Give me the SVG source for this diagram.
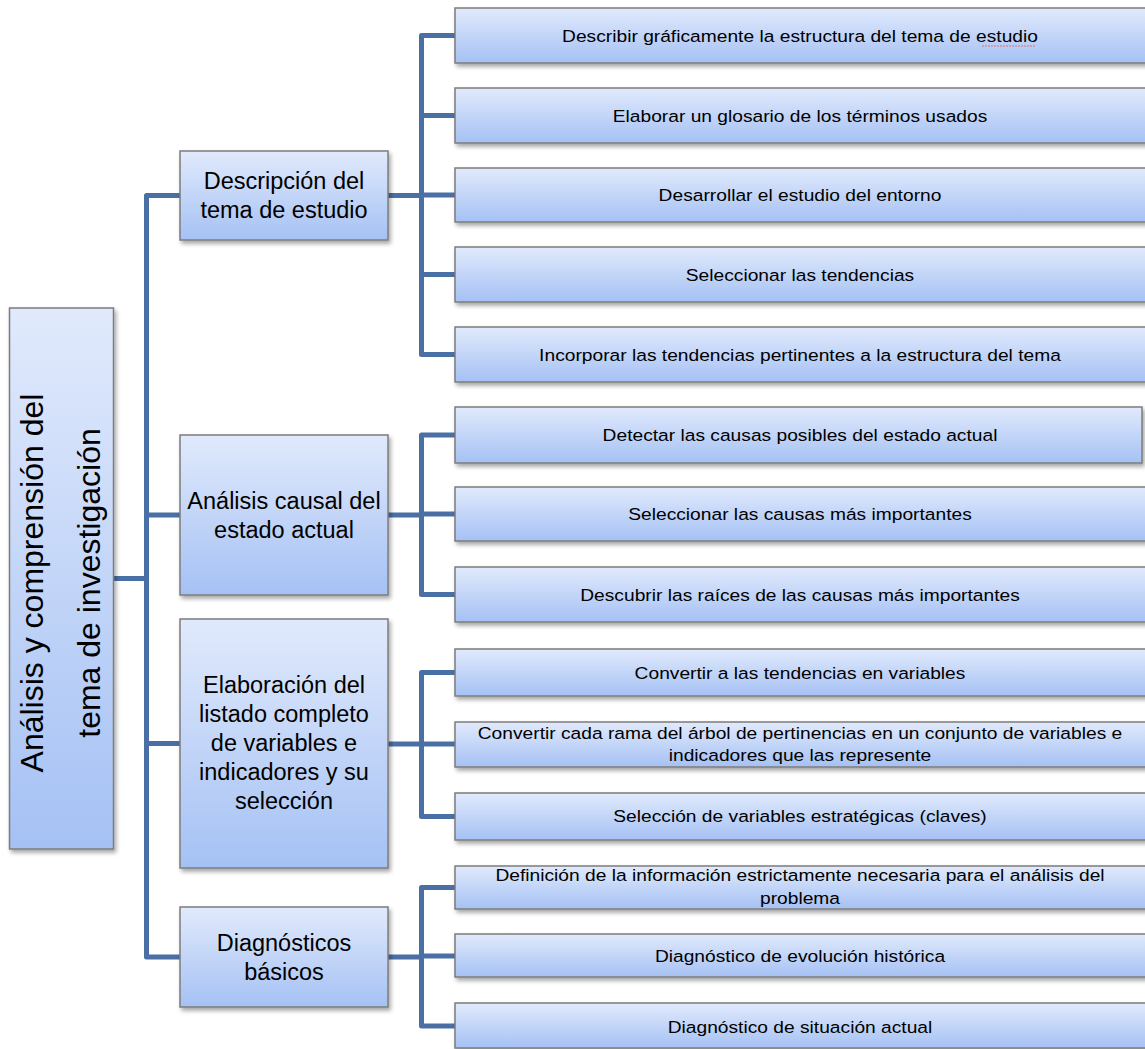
<svg xmlns="http://www.w3.org/2000/svg" width="1145" height="1049" viewBox="0 0 1145 1049">
<defs>
<linearGradient id="fill" x1="0" y1="0" x2="0" y2="1">
<stop offset="0" stop-color="#E1EAFC"/>
<stop offset="1" stop-color="#A5C1F4"/>
</linearGradient>
<filter id="sh" x="-10%" y="-20%" width="130%" height="160%">
<feDropShadow dx="2" dy="3" stdDeviation="2" flood-color="#000" flood-opacity="0.35"/>
</filter>
</defs>
<style>
.box{fill:url(#fill);stroke:#7C7C7C;stroke-width:1.5;filter:url(#sh)}
.con{fill:none;stroke:#4A6FA5;stroke-width:5;stroke-linejoin:round}
.root{font-family:"Liberation Sans",Arial,sans-serif;font-size:32px;fill:#000}
.mid{font-family:"Liberation Sans",Arial,sans-serif;font-size:23.5px;fill:#000}
.leaf{font-family:"Liberation Sans",Arial,sans-serif;font-size:17px;fill:#000}
</style>
<rect width="1145" height="1049" fill="#fff"/>
<g id="connectors">
<path class="con" d="M113 578.5 H146.5"/>
<path class="con" d="M180 195.5 H146.5 V957 H180"/>
<path class="con" d="M146.5 515 H180"/>
<path class="con" d="M146.5 743.5 H180"/>
<path class="con" d="M455 35.5 H421.5 V354.5 H455"/>
<path class="con" d="M421.5 115.5 H455 M421.5 195 H455 M421.5 274.5 H455 M388 195.5 H421.5"/>
<path class="con" d="M455 435 H421.5 V594.5 H455"/>
<path class="con" d="M421.5 514 H455 M388 515 H421.5"/>
<path class="con" d="M455 672.5 H421.5 V816.5 H455"/>
<path class="con" d="M421.5 744 H455 M388 744 H421.5"/>
<path class="con" d="M455 887.5 H421.5 V1026 H455"/>
<path class="con" d="M421.5 956 H455 M388 957 H421.5"/>
</g>
<g id="root">
<rect class="box" x="9.5" y="308" width="104" height="541"/>
<text class="root" text-anchor="middle" transform="translate(43 583) rotate(-90)">Análisis y comprensión del</text>
<text class="root" text-anchor="middle" transform="translate(100 583) rotate(-90)">tema de investigación</text>
</g>
<g id="mid-1">
<rect class="box" x="180" y="151" width="208" height="89"/>
<text class="mid" text-anchor="middle" x="284" y="189">Descripción del</text>
<text class="mid" text-anchor="middle" x="284" y="218">tema de estudio</text>
</g>
<g id="mid-2">
<rect class="box" x="180" y="435" width="208" height="160"/>
<text class="mid" text-anchor="middle" x="284" y="508.5">Análisis causal del</text>
<text class="mid" text-anchor="middle" x="284" y="537.5">estado actual</text>
</g>
<g id="mid-3">
<rect class="box" x="180" y="619" width="208" height="249"/>
<text class="mid" text-anchor="middle" x="284" y="693">Elaboración del</text>
<text class="mid" text-anchor="middle" x="284" y="722">listado completo</text>
<text class="mid" text-anchor="middle" x="284" y="751">de variables e</text>
<text class="mid" text-anchor="middle" x="284" y="780">indicadores y su</text>
<text class="mid" text-anchor="middle" x="284" y="809">selección</text>
</g>
<g id="mid-4">
<rect class="box" x="180" y="907" width="208" height="100"/>
<text class="mid" text-anchor="middle" x="284" y="950.5">Diagnósticos</text>
<text class="mid" text-anchor="middle" x="284" y="979.5">básicos</text>
</g>
<g id="leaf-1">
<rect class="box" x="455" y="8" width="700" height="55"/>
<text class="leaf" text-anchor="middle" transform="translate(800 41.5) scale(1.13 1)">Describir gráficamente la estructura del tema de estudio</text>
<path d="M982 46 H1036" stroke="#E07070" stroke-width="1" stroke-dasharray="2 1" fill="none"/>
</g>
<g id="leaf-2">
<rect class="box" x="455" y="88" width="700" height="55"/>
<text class="leaf" text-anchor="middle" transform="translate(800 121.5) scale(1.13 1)">Elaborar un glosario de los términos usados</text>
</g>
<g id="leaf-3">
<rect class="box" x="455" y="168" width="700" height="54"/>
<text class="leaf" text-anchor="middle" transform="translate(800 201) scale(1.13 1)">Desarrollar el estudio del entorno</text>
</g>
<g id="leaf-4">
<rect class="box" x="455" y="247" width="700" height="55"/>
<text class="leaf" text-anchor="middle" transform="translate(800 280.5) scale(1.13 1)">Seleccionar las tendencias</text>
</g>
<g id="leaf-5">
<rect class="box" x="455" y="327" width="700" height="55"/>
<text class="leaf" text-anchor="middle" transform="translate(800 360.5) scale(1.13 1)">Incorporar las tendencias pertinentes a la estructura del tema</text>
</g>
<g id="leaf-6">
<rect class="box" x="455" y="407" width="687" height="56"/>
<text class="leaf" text-anchor="middle" transform="translate(800 441) scale(1.13 1)">Detectar las causas posibles del estado actual</text>
</g>
<g id="leaf-7">
<rect class="box" x="455" y="487" width="700" height="54"/>
<text class="leaf" text-anchor="middle" transform="translate(800 520) scale(1.13 1)">Seleccionar las causas más importantes</text>
</g>
<g id="leaf-8">
<rect class="box" x="455" y="567" width="700" height="55"/>
<text class="leaf" text-anchor="middle" transform="translate(800 600.5) scale(1.13 1)">Descubrir las raíces de las causas más importantes</text>
</g>
<g id="leaf-9">
<rect class="box" x="455" y="649" width="700" height="47"/>
<text class="leaf" text-anchor="middle" transform="translate(800 678.5) scale(1.13 1)">Convertir a las tendencias en variables</text>
</g>
<g id="leaf-10">
<rect class="box" x="455" y="722" width="700" height="45"/>
<text class="leaf" text-anchor="middle" transform="translate(800 739) scale(1.13 1)">Convertir cada rama del árbol de pertinencias en un conjunto de variables e</text>
<text class="leaf" text-anchor="middle" transform="translate(800 761) scale(1.13 1)">indicadores que las represente</text>
</g>
<g id="leaf-11">
<rect class="box" x="455" y="793" width="700" height="47"/>
<text class="leaf" text-anchor="middle" transform="translate(800 822) scale(1.13 1)">Selección de variables estratégicas (claves)</text>
</g>
<g id="leaf-12">
<rect class="box" x="455" y="866" width="700" height="43"/>
<text class="leaf" text-anchor="middle" transform="translate(800 881) scale(1.13 1)">Definición de la información estrictamente necesaria para el análisis del</text>
<text class="leaf" text-anchor="middle" transform="translate(800 904) scale(1.13 1)">problema</text>
</g>
<g id="leaf-13">
<rect class="box" x="455" y="934" width="700" height="43"/>
<text class="leaf" text-anchor="middle" transform="translate(800 961.5) scale(1.13 1)">Diagnóstico de evolución histórica</text>
</g>
<g id="leaf-14">
<rect class="box" x="455" y="1003" width="700" height="45"/>
<text class="leaf" text-anchor="middle" transform="translate(800 1033) scale(1.13 1)">Diagnóstico de situación actual</text>
</g>
</svg>
